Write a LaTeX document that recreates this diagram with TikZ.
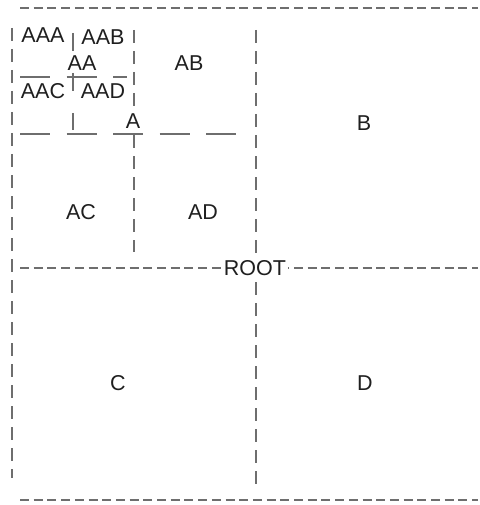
\documentclass[tikz,border=0pt]{standalone}
\usepackage{fontspec}
\setmainfont{Liberation Sans}
\definecolor{linegray}{HTML}{6E6E6E}
\definecolor{labelink}{HTML}{1F1F1F}
\tikzset{
  split/.style={draw=linegray, line width=1.9pt},
  finedash/.style={split, dash pattern=on 9pt off 4.7pt},
  coldash/.style={split, dash pattern=on 13pt off 8pt},
  longdash/.style={split, dash pattern=on 30pt off 16.5pt},
  region/.style={text=labelink, inner sep=2pt, font=\fontsize{21.5}{24}\selectfont},
  cut/.style={region, fill=white},
}
\begin{document}
\begin{tikzpicture}[x=1pt, y=-1pt]
\useasboundingbox (0,0) rectangle (479,505);

% outer frame (top, left, bottom)
\draw[finedash] (20,8) -- (478,8);
\draw[coldash] (12,28) -- (12,478);
\draw[finedash] (20,500) -- (478,500);

% root split
\draw[coldash] (256,30) -- (256,487);
\draw[finedash] (20,268) -- (478,268);

% split of A
\draw[coldash] (134,30) -- (134,252);
\draw[longdash] (20,134) -- (238,134);

% split of AA
\draw[split, dash pattern=on 18pt off 22pt] (73,33) -- (73,130);
\draw[longdash] (20,77) -- (127,77);

% region labels
\node[cut] (root) at (255,268) {ROOT};
\node[cut] (a) at (133,121) {A};
\node[cut] (aa) at (82,63) {AA};
\node[region] (aaa) at (43,35) {AAA};
\node[region] (aab) at (103,37) {AAB};
\node[region] (aac) at (43,91) {AAC};
\node[region] (aad) at (103,91) {AAD};
\node[region] (ab) at (189,63) {AB};
\node[region] (ac) at (81,212) {AC};
\node[region] (ad) at (203,212) {AD};
\node[region] (b) at (364,123) {B};
\node[region] (c) at (118,383) {C};
\node[region] (d) at (365,383) {D};
\end{tikzpicture}
\end{document}
